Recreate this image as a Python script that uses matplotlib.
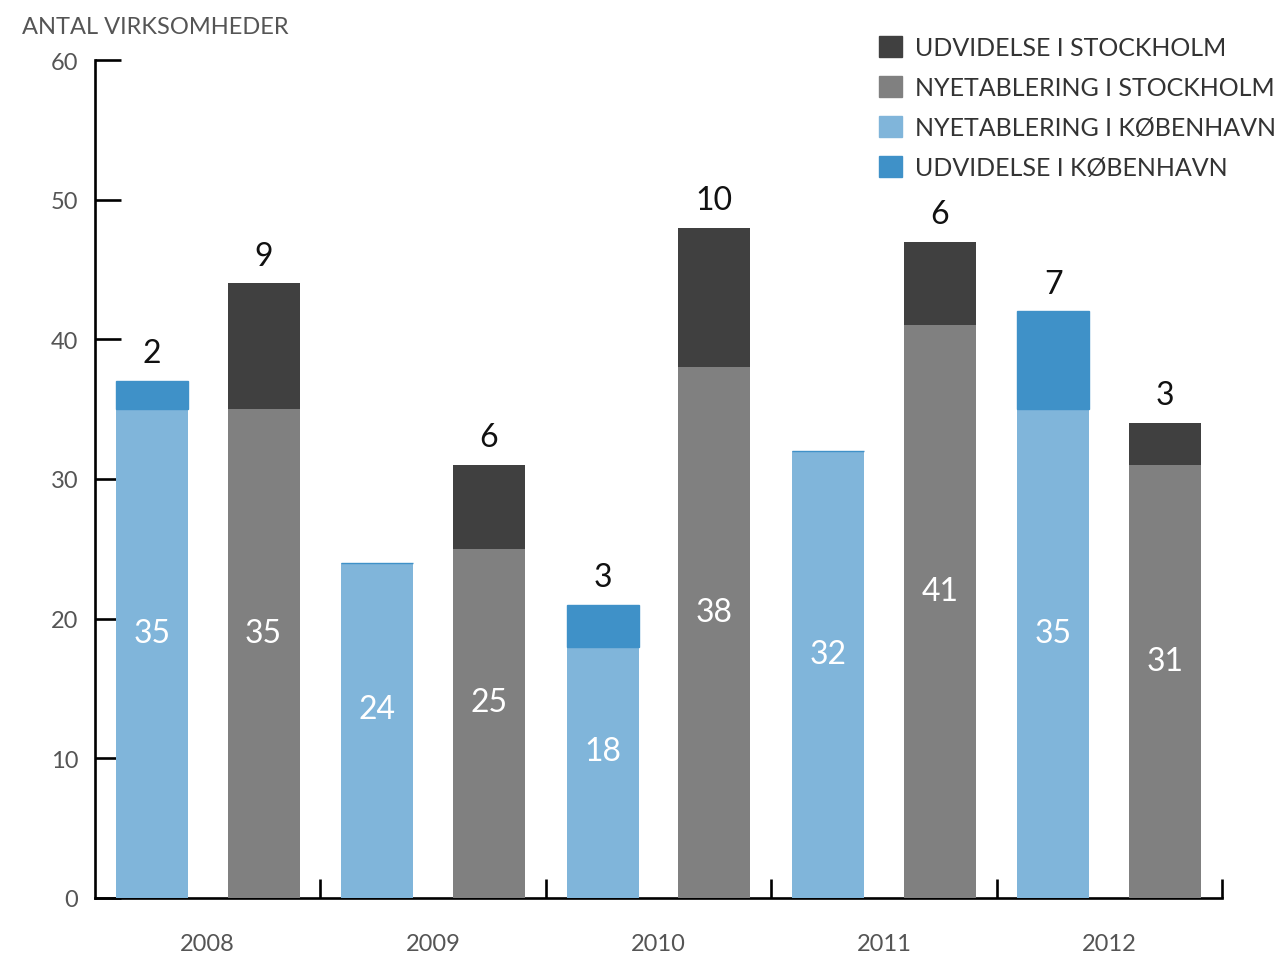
import matplotlib
matplotlib.use("Agg")
from matplotlib import pyplot as plt
from matplotlib.patches import Patch
import numpy as np

plt.rcParams['font.family'] = ['Lato', 'DejaVu Sans']

years = ['2008', '2009', '2010', '2011', '2012']
kbh_ny = [35, 24, 18, 32, 35]
kbh_udv = [2, 0, 3, 0, 7]
sth_ny = [35, 25, 38, 41, 31]
sth_udv = [9, 6, 10, 6, 3]

c_kbh_ny = '#80b5da'
c_kbh_udv = '#3f91c8'
c_sth_ny = '#808080'
c_sth_udv = '#404040'

fig = plt.figure(figsize=(12.88, 9.54), dpi=100)
ax = fig.add_axes([95/1288, 55/954, 1127/1288, 838/954])

centers = np.arange(len(years)) + 0.5
off = 0.248
w = 0.319

x_k = centers - off
x_s = centers + off

ax.bar(x_k, kbh_ny, w, color=c_kbh_ny, zorder=3)
ax.bar(x_k, kbh_udv, w, bottom=kbh_ny, color=c_kbh_udv,
       edgecolor=c_kbh_udv, linewidth=1.0, zorder=3)
ax.bar(x_s, sth_ny, w, color=c_sth_ny, zorder=3)
ax.bar(x_s, sth_udv, w, bottom=sth_ny, color=c_sth_udv, zorder=3)

# value labels
for xs, base, top in [(x_k, kbh_ny, kbh_udv), (x_s, sth_ny, sth_udv)]:
    for x, b, t in zip(xs, base, top):
        ax.text(x, b / 2 + 1.5, str(b), ha='center', va='center',
                color='white', fontsize=23, zorder=4)
        if t > 0:
            ax.annotate(str(t), (x, b + t), xytext=(0, 20),
                        textcoords='offset points', ha='center', va='center',
                        color='#111111', fontsize=23)

ax.set_xlim(0, 5)
ax.set_ylim(0, 60)
for s in ['top', 'right']:
    ax.spines[s].set_visible(False)
for s in ['left', 'bottom']:
    ax.spines[s].set_linewidth(1.9)
    ax.spines[s].set_color('black')
    ax.spines[s].set_zorder(2)

ax.set_yticks(range(0, 61, 10))
ax.tick_params(axis='y', direction='in', length=19, width=1.9, pad=12,
               labelsize=17, labelcolor='#555555')

ax.set_xticks([1, 2, 3, 4, 5])
ax.set_xticklabels([])
ax.set_xticks(centers, minor=True)
ax.set_xticklabels(years, minor=True)
ax.tick_params(axis='x', which='major', direction='in', length=14, width=1.9)
ax.tick_params(axis='x', which='minor', length=0, pad=25,
               labelsize=17, labelcolor='#555555')

fig.text(22/1288, 1 - 27/954, 'ANTAL VIRKSOMHEDER', ha='left', va='center',
         fontsize=17, color='#555555')

handles = [Patch(color=c_sth_udv), Patch(color=c_sth_ny),
           Patch(color=c_kbh_ny), Patch(color=c_kbh_udv)]
labels = ['UDVIDELSE I STOCKHOLM', 'NYETABLERING I STOCKHOLM',
          'NYETABLERING I KØBENHAVN', 'UDVIDELSE I KØBENHAVN']
leg = fig.legend(handles, labels, loc='upper left',
                 bbox_to_anchor=(879/1288, 1 - 37/954), frameon=False,
                 handlelength=0.9, handleheight=0.9, handletextpad=0.55,
                 labelspacing=0.68, fontsize=18, borderaxespad=0,
                 borderpad=0)
for t in leg.get_texts():
    t.set_color('#333333')

fig.savefig('out.png', dpi=100)
